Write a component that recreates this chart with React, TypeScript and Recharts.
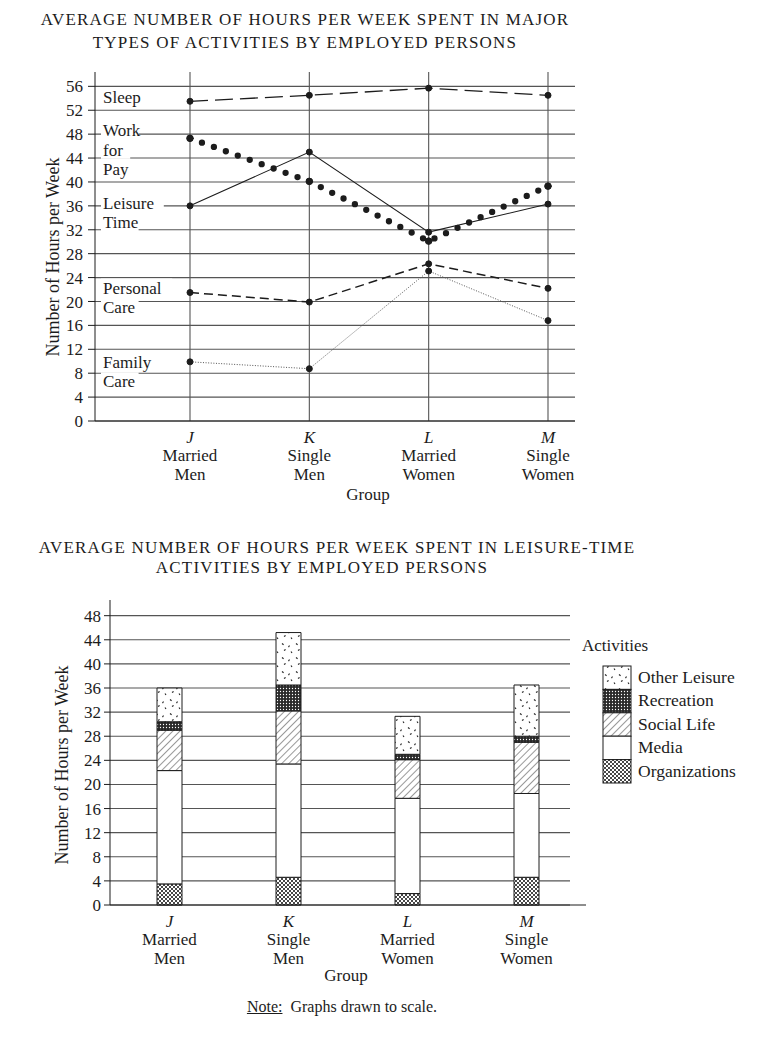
import { Bar, BarChart, CartesianGrid, Line, LineChart, XAxis, YAxis } from "recharts";

const GROUPS = ["J", "K", "L", "M"];
const GROUP_NAMES = [
  ["Married", "Men"],
  ["Single", "Men"],
  ["Married", "Women"],
  ["Single", "Women"],
];

// hours per week, major activities
const SLEEP = [53.5, 54.5, 55.7, 54.5];
const WORK_FOR_PAY = [47.3, 40.1, 30.1, 39.3];
const LEISURE_TIME = [36, 45, 31.6, 36.3];
const PERSONAL_CARE = [21.5, 19.9, 26.3, 22.2];
const FAMILY_CARE = [9.9, 8.75, 25.1, 16.8];

// hours per week, leisure-time breakdown
const ORGANIZATIONS = [3.5, 4.6, 1.9, 4.6];
const MEDIA = [18.8, 18.8, 15.8, 13.9];
const SOCIAL_LIFE = [6.7, 8.8, 6.4, 8.5];
const RECREATION = [1.4, 4.3, 0.9, 1.0];
const OTHER_LEISURE = [5.6, 8.7, 6.3, 8.5];

const TOP_TICKS = [0, 4, 8, 12, 16, 20, 24, 28, 32, 36, 40, 44, 48, 52, 56];
const BOTTOM_TICKS = [0, 4, 8, 12, 16, 20, 24, 28, 32, 36, 40, 44, 48];

const LEGEND_ITEMS = [
  { label: "Other Leisure", fill: "url(#pOther)" },
  { label: "Recreation", fill: "url(#pRec)" },
  { label: "Social Life", fill: "url(#pSocial)" },
  { label: "Media", fill: "#fff" },
  { label: "Organizations", fill: "url(#pOrg)" },
];

const FONT = '"Liberation Serif", "Times New Roman", serif';
const INK = "#1c1c1c";
const GRID = "#555";
const FS = 17;

const lineData = GROUPS.map((g, i) => ({
  group: g,
  sleep: SLEEP[i],
  work: WORK_FOR_PAY[i],
  leisure: LEISURE_TIME[i],
  personal: PERSONAL_CARE[i],
  family: FAMILY_CARE[i],
}));

const barData = GROUPS.map((g, i) => ({
  group: g,
  organizations: ORGANIZATIONS[i],
  media: MEDIA[i],
  social: SOCIAL_LIFE[i],
  recreation: RECREATION[i],
  other: OTHER_LEISURE[i],
}));

function GroupTick(props: any) {
  const { x, y, payload } = props;
  const i = GROUPS.indexOf(payload.value);
  const txt = { textAnchor: "middle" as const, fontSize: FS, fontFamily: FONT, fill: INK };
  return (
    <g>
      <text x={x} y={y + 14} {...txt} fontStyle="italic">
        {payload.value}
      </text>
      <text x={x} y={y + 32} {...txt}>
        {GROUP_NAMES[i][0]}
      </text>
      <text x={x} y={y + 51} {...txt}>
        {GROUP_NAMES[i][1]}
      </text>
    </g>
  );
}

// name written to the left of the J point, over a white patch
const seriesLabel = (lines: string[], dy: number) => (p: any) => {
  if (p.index !== 0) return <g />;
  const x = p.x - 87;
  return (
    <g>
      {lines.map((t, k) => {
        const cy = p.y + dy + k * 19.5;
        return (
          <g key={k}>
            <rect x={x - 2} y={cy - 9} width={t.length * 8.4 + 4} height={18} fill="#fff" />
            <text x={x} y={cy + 6} fontSize={FS} fontFamily={FONT} fill={INK}>
              {t}
            </text>
          </g>
        );
      })}
    </g>
  );
};

const dotStyle = (r: number) => ({ r, fill: INK, stroke: INK, strokeWidth: 1, strokeDasharray: "none" });

const yLabel = (x: number, y: number) => () =>
  (
    <text
      transform={`translate(${x},${y}) rotate(-90)`}
      textAnchor="middle"
      fontSize={18}
      fontFamily={FONT}
      fill={INK}
    >
      Number of Hours per Week
    </text>
  );

const xLabel = (x: number, y: number) => () =>
  (
    <text x={x} y={y} textAnchor="middle" fontSize={FS} fontFamily={FONT} fill={INK}>
      Group
    </text>
  );

export default function App() {
  const title = {
    position: "absolute" as const,
    fontFamily: FONT,
    fontSize: 17,
    color: INK,
    textAlign: "center" as const,
    whiteSpace: "nowrap" as const,
    letterSpacing: 1.2,
    lineHeight: "20px",
  };
  return (
    <div style={{ position: "absolute", left: 0, top: 0, width: 761, height: 1037, background: "#fff", fontFamily: FONT }}>
      <svg width={0} height={0} style={{ position: "absolute" }}>
        <defs>
          <pattern id="pOther" width={14} height={14} patternUnits="userSpaceOnUse">
            <rect width={14} height={14} fill="#fff" />
            <path d="M2 2.5 l1.6 1.2 M9.5 4.5 l-1 1.6 M4 9.5 l1.6 -1 M11 10.5 l1 1.5" stroke="#222" strokeWidth={1.1} fill="none" />
          </pattern>
          <pattern id="pRec" width={3} height={3} patternUnits="userSpaceOnUse">
            <rect width={3} height={3} fill="#2a2a2a" />
            <circle cx={1.5} cy={1.5} r={0.65} fill="#fff" />
          </pattern>
          <pattern id="pSocial" width={5} height={5} patternUnits="userSpaceOnUse" patternTransform="rotate(45)">
            <rect width={5} height={5} fill="#fff" />
            <line x1={0} y1={0} x2={0} y2={5} stroke="#333" strokeWidth={1} />
          </pattern>
          <pattern id="pOrg" width={4} height={4} patternUnits="userSpaceOnUse">
            <rect width={4} height={4} fill="#fff" />
            <path d="M0 0 L4 4 M4 0 L0 4" stroke="#333" strokeWidth={0.9} />
          </pattern>
        </defs>
      </svg>

      <div style={{ ...title, left: 0, width: 610, top: 10 }}>AVERAGE NUMBER OF HOURS PER WEEK SPENT IN MAJOR</div>
      <div style={{ ...title, left: 0, width: 610, top: 33 }}>TYPES OF ACTIVITIES BY EMPLOYED PERSONS</div>

      <div style={{ position: "absolute", left: 0, top: 60 }}>
        <LineChart width={600} height={450} data={lineData} margin={{ top: 12, right: 25, bottom: 0, left: 0 }}>
          <CartesianGrid syncWithTicks stroke={GRID} strokeWidth={1.1} vertical={{ stroke: "#777", strokeWidth: 0.8 }} />
          <XAxis
            dataKey="group"
            height={89}
            padding={{ left: 95, right: 27 }}
            tickLine={false}
            axisLine={{ stroke: INK }}
            tick={<GroupTick />}
            interval={0}
            label={{ content: xLabel(368, 440) }}
          />
          <YAxis
            type="number"
            width={95}
            domain={[0, 58.4]}
            ticks={TOP_TICKS}
            interval={0}
            tickSize={7}
            tickMargin={5}
            axisLine={{ stroke: INK }}
            tickLine={{ stroke: INK }}
            tick={{ fill: INK, fontSize: FS, fontFamily: FONT }}
            label={{ content: yLabel(59, 197) }}
          />
          <Line dataKey="sleep" stroke={INK} strokeWidth={1.3} strokeDasharray="18 7" dot={dotStyle(3)} isAnimationActive={false} label={seriesLabel(["Sleep"], -4)} />
          <Line dataKey="leisure" stroke={INK} strokeWidth={1.1} dot={dotStyle(3)} isAnimationActive={false} label={seriesLabel(["Leisure", "Time"], -3)} />
          <Line
            dataKey="work"
            stroke={INK}
            strokeWidth={6.3}
            strokeLinecap="round"
            strokeDasharray="0 12.7"
            dot={dotStyle(3.3)}
            isAnimationActive={false}
            label={seriesLabel(["Work", "for", "Pay"], -8)}
          />
          <Line dataKey="personal" stroke={INK} strokeWidth={1.5} strokeDasharray="9 5" dot={dotStyle(3)} isAnimationActive={false} label={seriesLabel(["Personal", "Care"], -5)} />
          <Line dataKey="family" stroke="#555" strokeWidth={1} strokeDasharray="1 1.6" dot={dotStyle(3)} isAnimationActive={false} label={seriesLabel(["Family", "Care"], 0)} />
        </LineChart>
      </div>

      <div style={{ ...title, left: 0, width: 674, top: 538 }}>AVERAGE NUMBER OF HOURS PER WEEK SPENT IN LEISURE-TIME</div>
      <div style={{ ...title, left: 0, width: 644, top: 558 }}>ACTIVITIES BY EMPLOYED PERSONS</div>

      <div style={{ position: "absolute", left: 0, top: 585 }}>
        <BarChart width={600} height={410} data={barData} margin={{ top: 15, right: 14, bottom: 0, left: 0 }}>
          <CartesianGrid
            syncWithTicks
            vertical={false}
            horizontal={(p: any) => (
              <line key={p.key ?? `h-${p.index}`} x1={p.x1} y1={p.y1} x2={p.x2 - 16} y2={p.y2} stroke={GRID} strokeWidth={1.1} />
            )}
          />
          <XAxis
            dataKey="group"
            height={90}
            tickLine={false}
            axisLine={{ stroke: INK }}
            tick={<GroupTick />}
            interval={0}
            label={{ content: xLabel(346, 396) }}
          />
          <YAxis
            type="number"
            width={110}
            domain={[0, 50.6]}
            ticks={BOTTOM_TICKS}
            interval={0}
            tickSize={6}
            tickMargin={3}
            axisLine={{ stroke: INK }}
            tickLine={{ stroke: INK }}
            tick={{ fill: INK, fontSize: FS, fontFamily: FONT }}
            label={{ content: yLabel(68, 180) }}
          />
          <Bar dataKey="organizations" stackId="a" fill="url(#pOrg)" stroke={INK} strokeWidth={1} barSize={25} isAnimationActive={false} />
          <Bar dataKey="media" stackId="a" fill="#fff" stroke={INK} strokeWidth={1} barSize={25} isAnimationActive={false} />
          <Bar dataKey="social" stackId="a" fill="url(#pSocial)" stroke={INK} strokeWidth={1} barSize={25} isAnimationActive={false} />
          <Bar dataKey="recreation" stackId="a" fill="url(#pRec)" stroke={INK} strokeWidth={1} barSize={25} isAnimationActive={false} />
          <Bar dataKey="other" stackId="a" fill="url(#pOther)" stroke={INK} strokeWidth={1} barSize={25} isAnimationActive={false} />
        </BarChart>
      </div>

      <svg width={186} height={165} style={{ position: "absolute", left: 575, top: 630 }}>
        <text x={7} y={21} fontSize={FS} fontFamily={FONT} fill={INK}>
          Activities
        </text>
        {LEGEND_ITEMS.map((item, i) => {
          const y = 36 + i * 23.4;
          return (
            <g key={item.label}>
              <rect x={28} y={y} width={28} height={23.4} fill={item.fill} stroke={INK} strokeWidth={1} />
              <text x={63} y={y + 17} fontSize={17.5} fontFamily={FONT} fill={INK}>
                {item.label}
              </text>
            </g>
          );
        })}
      </svg>

      <div style={{ position: "absolute", left: 0, width: 684, top: 998, textAlign: "center", fontSize: 16, fontFamily: FONT, color: INK, whiteSpace: "pre" }}>
        <span style={{ textDecoration: "underline" }}>Note:</span>{"  "}Graphs drawn to scale.
      </div>
    </div>
  );
}
